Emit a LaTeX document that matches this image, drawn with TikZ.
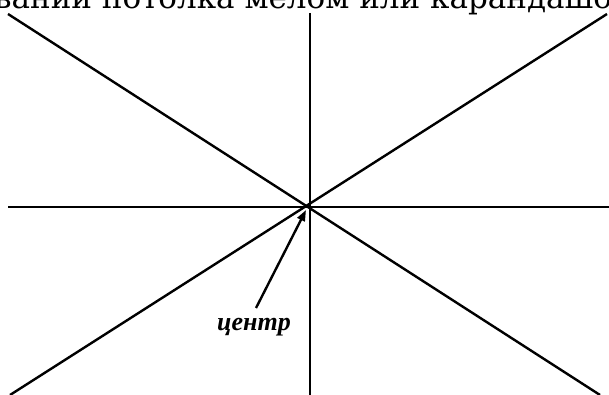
\documentclass[tikz,border=0pt]{standalone}
\usepackage{fontspec}
\setmainfont{DejaVu Serif}
\newfontfamily\lblfont{Liberation Serif}
\usetikzlibrary{arrows.meta}
\begin{document}
\begin{tikzpicture}[x=1pt,y=-1pt,
  ray/.style={line width=2.4pt,black},
  ptr/.style={line width=2.4pt,-{Triangle[length=11pt,width=8pt]}},
  lbl/.style={font=\lblfont\bfseries\itshape\fontsize{26}{26}\selectfont,inner sep=0pt}]
\useasboundingbox (0,0) rectangle (609,395);
\begin{scope}
\clip (0,0) rectangle (609,395);
\node[anchor=base west,inner sep=0pt,font=\fontsize{31}{31}\selectfont] (title) at (-6,9) {вании потолка мелом или карандашом};
\end{scope}
\coordinate (c) at (308,207);
\coordinate (vt) at (310,13);
\coordinate (vb) at (310,395);
\coordinate (hl) at (8,207);
\coordinate (hr) at (609,207);
\coordinate (tl) at (8,14);
\coordinate (br) at (600,395);
\coordinate (tr) at (607,14);
\coordinate (bl) at (10,395);
\draw[ray] (vt) -- (vb);
\draw[ray] (hl) -- (hr);
\draw[ray] (tl) -- (br);
\draw[ray] (tr) -- (bl);
\node[lbl] (label) at (254,327) {центр};
\coordinate (tail) at (256,308);
\draw[ptr] (tail) -- (306,210);
\end{tikzpicture}
\end{document}
